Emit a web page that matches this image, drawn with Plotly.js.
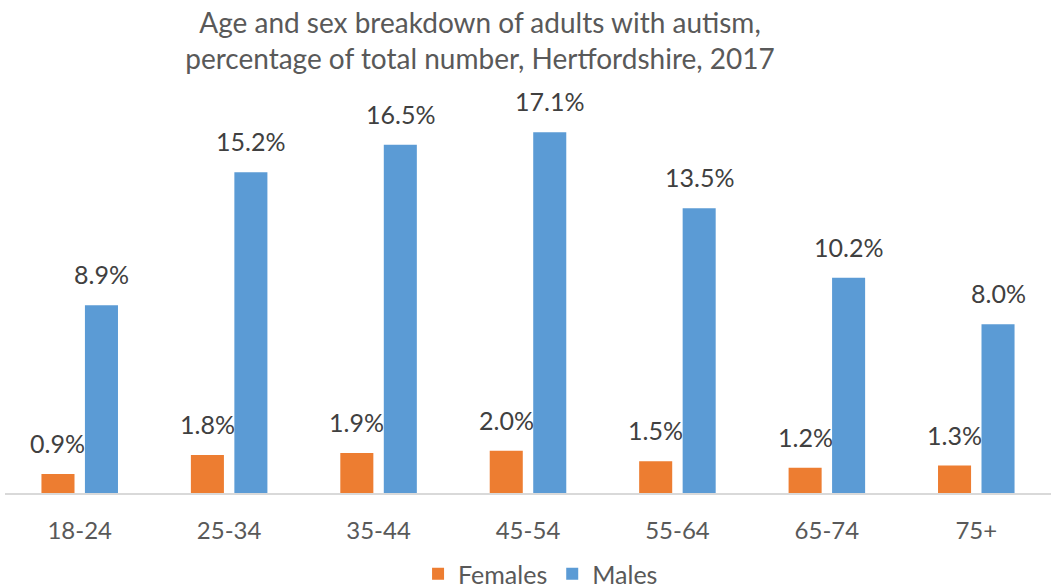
<!DOCTYPE html>
<html>
<head>
<meta charset="utf-8">
<script src="https://cdn.plot.ly/plotly-3.0.1.min.js"></script>
<style>html,body{margin:0;padding:0;background:#fff;}#chart{width:1051px;height:587px;}</style>
</head>
<body>
<div id="chart"></div>
<script>
const categories = ["18-24", "25-34", "35-44", "45-54", "55-64", "65-74", "75+"];
const females = [0.9, 1.8, 1.9, 2.0, 1.5, 1.2, 1.3];
const males = [8.9, 15.2, 16.5, 17.1, 13.5, 10.2, 8.0];
const seriesNames = ["Females", "Males"];

const FONT = "Lato, 'Liberation Sans', sans-serif";
const TXT = "#595959";

const traces = [
  {type: "bar", name: seriesNames[0], x: categories, y: females, marker: {color: "#ED7D31"}, hoverinfo: "none"},
  {type: "bar", name: seriesNames[1], x: categories, y: males, marker: {color: "#5B9BD5"}, hoverinfo: "none"}
];

const annotations = [];
const slotShift = 21.75;
[females, males].forEach((vals, si) => {
  vals.forEach((v, i) => {
    annotations.push({
      x: categories[i], y: v, xref: "x", yref: "y",
      text: v.toFixed(1) + "%", showarrow: false,
      xshift: si === 0 ? -slotShift : slotShift, yshift: 31,
      yanchor: "middle", xanchor: "center",
      font: {family: FONT, size: 25, color: "#404040"}
    });
  });
});

const layout = {
  width: 1051, height: 587,
  margin: {l: 5, r: 0, t: 71, b: 94},
  paper_bgcolor: "#fff", plot_bgcolor: "#fff",
  title: {
    text: "Age and sex breakdown of adults with autism,<br>percentage of total number, Hertfordshire, 2017",
    font: {family: FONT, size: 28, color: TXT},
    x: 480 / 1051, xanchor: "center", xref: "container",
    y: 1 - 33 / 587, yanchor: "middle", yref: "container"
  },
  barmode: "group", bargap: 0.418, bargroupgap: 0.24,
  xaxis: {
    type: "category", showline: true, linecolor: "#D9D9D9", linewidth: 2,
    ticks: "outside", ticklen: 15, tickcolor: "rgba(0,0,0,0)",
    tickfont: {family: FONT, size: 24, color: TXT}, showgrid: false, zeroline: false
  },
  yaxis: {range: [0, 20], visible: false, showgrid: false, zeroline: false, fixedrange: true},
  showlegend: true,
  legend: {
    orientation: "h", x: 0.512, xanchor: "center", xref: "paper",
    y: 1 - 574 / 587, yanchor: "middle", yref: "container",
    font: {family: FONT, size: 25, color: TXT}, itemwidth: 30, traceorder: "normal"
  },
  annotations: annotations
};

Plotly.newPlot("chart", traces, layout, {displayModeBar: false, staticPlot: true});
</script>
</body>
</html>
